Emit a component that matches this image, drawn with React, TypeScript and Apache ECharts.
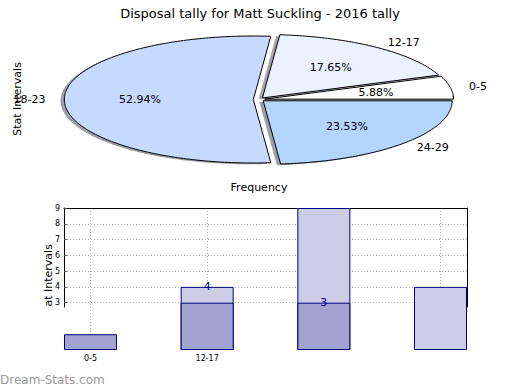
import React, { useEffect, useRef } from "react";
import * as echarts from "echarts";

// ---- data ----
const categories = ["0-5", "12-17", "18-23", "24-29"];
const pieValues = [1, 3, 9, 4];
const darkBarValues: (number | null)[] = [1, 3, 3, null];
const lightBarValues: (number | null)[] = [null, 4, 9, 4];
const darkLabelled = [false, false, true, false];
const lightLabelled = [false, true, false, false];
const yTickValues = [3, 4, 5, 6, 7, 8, 9];
const xTickValues = [0, 1, 2, 3];
const xLabelValues = [0, 1];
const titleText = "Disposal tally for Matt Suckling - 2016 tally";

// ---- styles ----
const pieColors = ["#ffffff", "#eaf1ff", "#c6d9ff", "#b4d5ff"];
const FONT = "DejaVu Sans";
const NAVY = "#000080";

// pie layout
const PCX = 259;
const PCY = 99.5;
const PRX = 189;
const PRY = 63.5;
const EXPLODE = 0.03;

function hexToRgb(h: string) {
  const n = parseInt(h.slice(1), 16);
  return [(n >> 16) & 255, (n >> 8) & 255, n & 255];
}

function sliceGeom(idx: number) {
  const total = pieValues.reduce((a, b) => a + b, 0);
  let cum = 0;
  for (let i = 0; i < idx; i++) cum += pieValues[i];
  const t1 = (2 * Math.PI * cum) / total;
  const t2 = (2 * Math.PI * (cum + pieValues[idx])) / total;
  const mid = (t1 + t2) / 2;
  const ox = PCX + EXPLODE * PRX * Math.cos(mid);
  const oy = PCY - EXPLODE * PRY * Math.sin(mid);
  const pts: number[][] = [[ox, oy]];
  const steps = Math.max(8, Math.ceil(((t2 - t1) * 180) / Math.PI));
  for (let s = 0; s <= steps; s++) {
    const t = t1 + ((t2 - t1) * s) / steps;
    pts.push([ox + PRX * Math.cos(t), oy - PRY * Math.sin(t)]);
  }
  return { pts, mid, ox, oy, total };
}

export default function App() {
  const ref = useRef<HTMLDivElement>(null);
  useEffect(() => {
    if (!ref.current) return;
    const chart = echarts.init(ref.current, null, { renderer: "svg" });

    const barItem = (vals: (number | null)[], labelled: boolean[], color: string) =>
      vals.map((v, i) => ({
        value: [i, v],
        itemStyle: { color, borderColor: NAVY, borderWidth: 1 },
        label: {
          show: labelled[i],
          position: "top",
          distance: -5,
          color: NAVY,
          fontSize: 11,
          fontFamily: FONT,
          formatter: String(v),
        },
      }));

    const frameAxis = (position: string) => ({
      type: "value",
      gridIndex: 1,
      position,
      axisLine: { show: true, onZero: false, lineStyle: { color: "#000", width: 1 } },
      axisTick: { show: false },
      axisLabel: { show: false },
      splitLine: { show: false },
    });

    chart.setOption({
      animation: false,
      backgroundColor: "#ffffff",
      title: {
        text: titleText,
        left: "center",
        top: 2,
        textStyle: { fontFamily: FONT, fontSize: 13, fontWeight: "normal", color: "#000" },
      },
      grid: [
        { left: 64, right: 53, top: 208, height: 142 },
        { left: 64, right: 53, top: 208, height: 99 },
      ],
      xAxis: [
        {
          type: "value",
          gridIndex: 0,
          min: -0.227,
          max: 3.227,
          axisLine: { show: false, onZero: false },
          axisTick: { show: false, customValues: xTickValues },
          axisLabel: {
            customValues: xLabelValues,
            formatter: (v: number) => categories[Math.round(v)] ?? "",
            fontSize: 8,
            fontFamily: FONT,
            color: "#000",
            margin: 4,
          },
          splitLine: { show: true, lineStyle: { color: "#b0b0b0", type: [1, 2], width: 1 } },
        },
        frameAxis("top"),
      ],
      yAxis: [
        {
          type: "value",
          gridIndex: 0,
          min: 0,
          max: 9,
          interval: 1,
          axisLine: { show: false, onZero: false },
          axisTick: {
            show: true,
            inside: true,
            length: 3,
            customValues: yTickValues,
            lineStyle: { color: "#555" },
          },
          axisLabel: {
            customValues: yTickValues,
            fontSize: 8,
            fontFamily: FONT,
            color: "#000",
            margin: 4,
          },
          splitLine: { show: true, lineStyle: { color: "#b0b0b0", type: [1, 2], width: 1 } },
        },
        frameAxis("left"),
        frameAxis("right"),
      ],
      graphic: [
        {
          type: "text",
          x: 17,
          y: 99,
          rotation: Math.PI / 2,
          style: { text: "Stat Intervals", fontFamily: FONT, fontSize: 11, fill: "#000", align: "center", verticalAlign: "middle" },
        },
        {
          type: "text",
          x: 259,
          y: 187,
          style: { text: "Frequency", fontFamily: FONT, fontSize: 11, fill: "#000", align: "center", verticalAlign: "middle" },
        },
        {
          type: "text",
          x: 48,
          y: 281,
          rotation: Math.PI / 2,
          style: { text: "Stat Intervals", fontFamily: FONT, fontSize: 11, fill: "#000", align: "center", verticalAlign: "middle" },
        },
        {
          type: "rect",
          z: 100,
          shape: { x: 38, y: 307, width: 18, height: 20 },
          style: { fill: "#ffffff" },
        },
        {
          type: "text",
          x: 0,
          y: 380,
          style: { text: "Dream-Stats.com", fontFamily: FONT, fontSize: 12, fill: "#9a9a9a", align: "left", verticalAlign: "middle" },
        },
      ],
      series: [
        {
          type: "custom",
          coordinateSystem: "none",
          silent: true,
          data: pieValues,
          renderItem: (params: any) => {
            const g = sliceGeom(params.dataIndex);
            const [r, gg, b] = hexToRgb(pieColors[params.dataIndex]);
            const dx = -0.02 * PRX;
            const dy = 0.02 * PRY;
            return {
              type: "polygon",
              shape: { points: g.pts.map((p) => [p[0] + dx, p[1] + dy]) },
              style: {
                fill: `rgba(${Math.round(r * 0.3)},${Math.round(gg * 0.3)},${Math.round(b * 0.3)},0.5)`,
                stroke: "none",
              },
            };
          },
        },
        {
          type: "custom",
          coordinateSystem: "none",
          silent: true,
          data: pieValues,
          renderItem: (params: any) => {
            const i = params.dataIndex;
            const g = sliceGeom(i);
            const c = Math.cos(g.mid);
            const s = Math.sin(g.mid);
            const pct = ((100 * pieValues[i]) / g.total).toFixed(2) + "%";
            return {
              type: "group",
              children: [
                {
                  type: "polygon",
                  shape: { points: g.pts },
                  style: { fill: pieColors[i], stroke: "#000", lineWidth: 1 },
                },
                {
                  type: "text",
                  x: g.ox + 0.6 * PRX * c,
                  y: g.oy - 0.6 * PRY * s,
                  style: { text: pct, fontFamily: FONT, fontSize: 11, fill: "#000", align: "center", verticalAlign: "middle" },
                },
                {
                  type: "text",
                  x: g.ox + 1.1 * PRX * c,
                  y: g.oy - 1.1 * PRY * s,
                  style: {
                    text: categories[i],
                    fontFamily: FONT,
                    fontSize: 11,
                    fill: "#000",
                    align: c > 0 ? "left" : "right",
                    verticalAlign: "middle",
                  },
                },
              ],
            };
          },
        },
        {
          type: "bar",
          xAxisIndex: 0,
          yAxisIndex: 0,
          barWidth: 53,
          barGap: "-100%",
          data: barItem(lightBarValues, lightLabelled, "#ccccE6"),
        },
        {
          type: "bar",
          xAxisIndex: 0,
          yAxisIndex: 0,
          barWidth: 53,
          barGap: "-100%",
          data: barItem(darkBarValues, darkLabelled, "#a3a3d1"),
        },
      ],
    });
    return () => chart.dispose();
  }, []);
  return (
    <div
      ref={ref}
      style={{ position: "fixed", left: 0, top: 0, width: 520, height: 390 }}
    />
  );
}
